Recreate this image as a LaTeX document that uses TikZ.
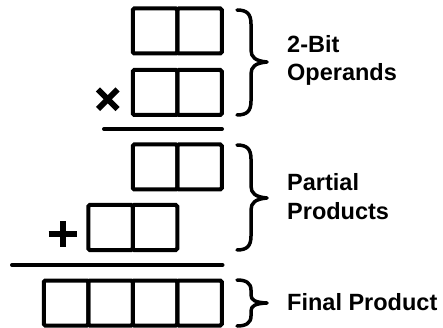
\documentclass[tikz,border=0pt]{standalone}
\usepackage{fontspec}
\setmainfont{Liberation Sans}
\begin{document}
\begin{tikzpicture}[x=1pt,y=-1pt,
  cell/.style={draw=black,line width=4pt,minimum width=44.5pt,minimum height=45pt,inner sep=0pt,rounded corners=1.5pt},
  rule/.style={line width=4pt,line cap=round},
  brace/.style={line width=3.5pt,line cap=round,line join=round},
  lbl/.style={font=\bfseries\fontsize{23.5}{28}\selectfont,anchor=base west,inner sep=0pt},
  sign/.style={line width=6pt}]
\useasboundingbox (0,0) rectangle (443,328);
% operand A
\node[cell] (a1) at (155,31) {};
\node[cell] (a0) at (199.5,31) {};
% operand B
\node[cell] (b1) at (155,92.5) {};
\node[cell] (b0) at (199.5,92.5) {};
% partial product 1
\node[cell] (p1) at (155,167) {};
\node[cell] (p0) at (199.5,167) {};
% partial product 2 (shifted)
\node[cell] (q1) at (110.5,227.5) {};
\node[cell] (q0) at (155,227.5) {};
% final product
\node[cell] (f3) at (66,303) {};
\node[cell] (f2) at (110.5,303) {};
\node[cell] (f1) at (155,303) {};
\node[cell] (f0) at (199.5,303) {};
% rules
\coordinate (r1a) at (104,129);
\coordinate (r1b) at (222,129);
\coordinate (r2a) at (12,265);
\coordinate (r2b) at (222.5,265);
\draw[rule] (r1a) -- (r1b);
\draw[rule] (r2a) -- (r2b);
% signs
\draw[sign] (98,89.5) -- (117.5,109);
\draw[sign] (98,109) -- (117.5,89.5);
\draw[sign] (48.5,234.3) -- (76.5,234.3);
\draw[sign] (62.5,221) -- (62.5,246.5);
% braces
\draw[brace] (237,10) .. controls (247,10) and (251,14) .. (251,24) -- (251,50)
  .. controls (251,57) and (255,61) .. (267,62)
  .. controls (255,63) and (251,67) .. (251,74) -- (251,101)
  .. controls (251,111) and (247,115) .. (237,115);
\draw[brace] (237,145) .. controls (247,145) and (251,149) .. (251,159) -- (251,186)
  .. controls (251,193) and (255,197) .. (267,198)
  .. controls (255,199) and (251,203) .. (251,210) -- (251,236)
  .. controls (251,246) and (247,250) .. (237,250);
\draw[brace] (237,280) .. controls (246,280) and (251,283) .. (251,290) -- (251,295)
  .. controls (251,300) and (255,302.5) .. (267,303)
  .. controls (255,303.5) and (251,306) .. (251,311) -- (251,316)
  .. controls (251,323) and (246,326) .. (237,326);
% labels
\node[lbl] (t1) at (287,53) {2-Bit};
\node[lbl] (t2) at (287,81) {Operands};
\node[lbl] (t3) at (287,190.5) {Partial};
\node[lbl] (t4) at (287,219) {Products};
\node[lbl] (t5) at (287,310) {Final Product};
\end{tikzpicture}
\end{document}
